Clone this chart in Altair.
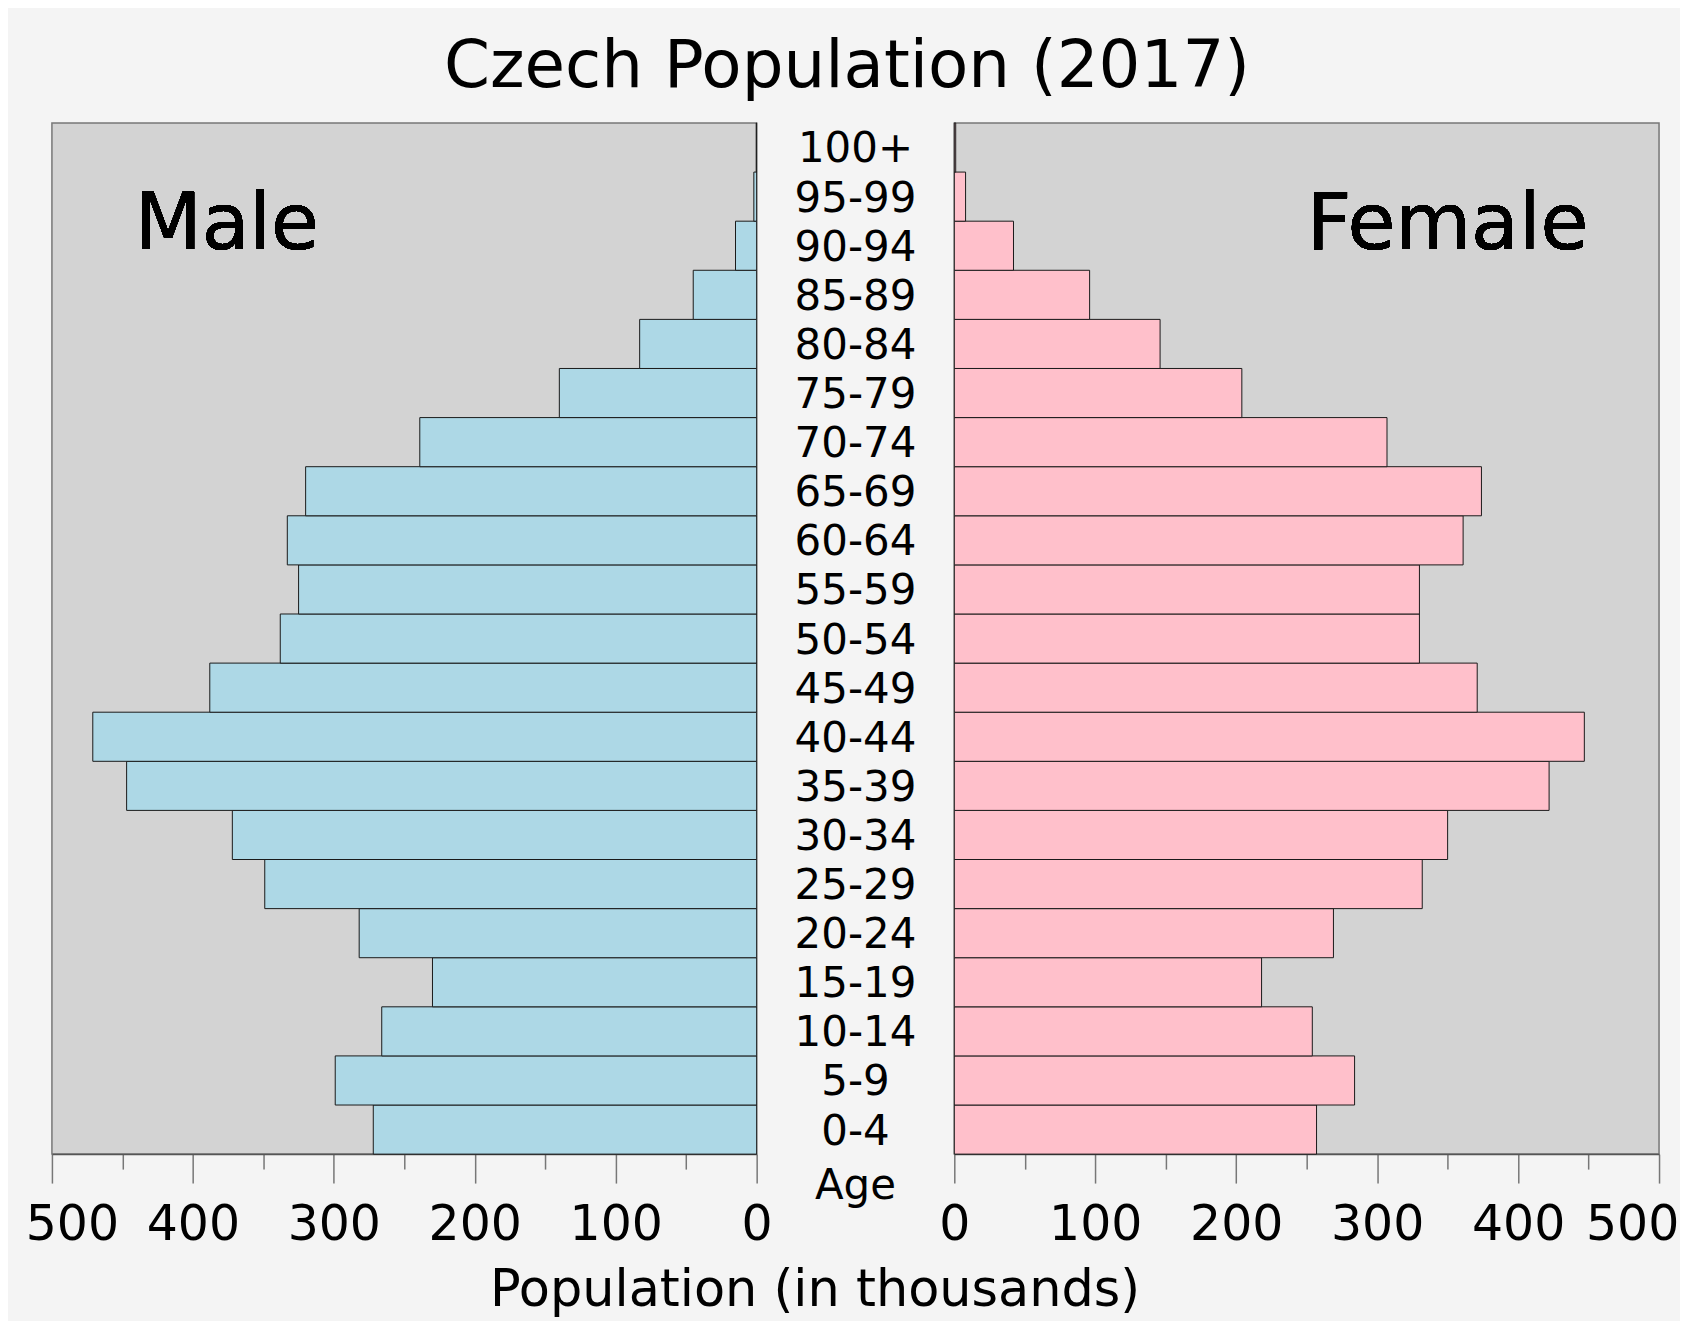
import altair as alt
import pandas as pd

# ---- data (thousands) ----
ages = ["0-4", "5-9", "10-14", "15-19", "20-24", "25-29", "30-34", "35-39",
        "40-44", "45-49", "50-54", "55-59", "60-64", "65-69", "70-74",
        "75-79", "80-84", "85-89", "90-94", "95-99", "100+"]
male = [272, 299, 266, 230, 282, 349, 372, 447, 471, 388, 338, 325, 333,
        320, 239, 140, 83, 45, 15, 2, 0.3]
female = [257, 284, 254, 218, 269, 332, 350, 422, 447, 371, 330, 330, 361,
          374, 307, 204, 146, 96, 42, 8, 1]
tick_values = [0, 50, 100, 150, 200, 250, 300, 350, 400, 450, 500]
panel_labels = ["Male", "Female"]
panel_label_pos = [376, 350]
panel_label_row = "95-99"

FONT = "DejaVu Sans"
df = pd.DataFrame({"age": ages, "male": male, "female": female})
order = ages[::-1]

W_SIDE = 706
W_MID = 198
H = 1033


def xaxis(flush_off):
    return alt.Axis(
        values=tick_values,
        labelExpr="datum.value % 100 === 0 ? datum.label : ''",
        title=None,
        grid=False,
        tickSize={"condition": {"test": "datum.value % 100 === 0", "value": 29}, "value": 15},
        labelOffset={"condition": {"test": "datum.value === 500", "value": flush_off}, "value": 0},
        labelFontSize=49,
        labelFont=FONT,
        labelColor="black",
        labelPadding=18,
        domainColor="#555555",
        domainWidth=1.5,
        tickColor="#777777",
        tickWidth=1.5,
        labelOverlap=False,
        labelFlush=False,
    )


yenc = alt.Y("age:N", sort=order, axis=None,
             scale=alt.Scale(paddingInner=0, paddingOuter=0))


def side(field, color, reverse, flush_off, label, label_x):
    scale = alt.Scale(domain=[0, 500], reverse=reverse)
    ax = xaxis(flush_off)
    bars = alt.Chart(df).mark_bar(color=color, stroke="#1a1a1a", strokeWidth=1).encode(
        x=alt.X(f"{field}:Q", scale=scale, axis=ax),
        y=yenc,
    )
    txt = alt.Chart(df).mark_text(
        fontSize=78, font=FONT, color="black", baseline="middle", align="center", dy=29
    ).encode(
        x=alt.XDatum(label_x, type="quantitative", scale=scale, axis=ax),
        y=alt.YDatum(panel_label_row, type="nominal"),
        text=alt.value(label),
    )
    return alt.layer(bars, txt).properties(
        width=W_SIDE, height=H,
        view=alt.ViewBackground(fill="#d3d3d3", stroke="#777777", strokeWidth=1.5),
    )


left = side("male", "#add8e6", True, 20, panel_labels[0], panel_label_pos[0])
right = side("female", "#ffc0cb", False, -27, panel_labels[1], panel_label_pos[1])

mid = alt.Chart(df).mark_text(fontSize=42, font=FONT, color="black", baseline="middle", dy=2).encode(
    y=yenc,
    text="age:N",
).properties(
    width=W_MID, height=H,
    title=alt.TitleParams("Age", orient="bottom", anchor="middle", fontSize=42, font=FONT,
                          fontWeight="normal", color="black", offset=12),
    view=alt.ViewBackground(strokeOpacity=0, fillOpacity=0),
)

inner = alt.hconcat(left, mid, right, spacing=0, bounds="flush").properties(
    title=alt.TitleParams("Population (in thousands)", orient="bottom", anchor="middle",
                          fontSize=51, font=FONT, fontWeight="normal", color="black",
                          offset=15, dx=-37)
)

chart = alt.vconcat(inner).properties(
    title=alt.TitleParams("Czech Population (2017)", anchor="middle", fontSize=66, font=FONT,
                          fontWeight="normal", color="black", offset=21, dx=-5),
    padding={"left": 16, "top": 24, "right": 0, "bottom": 4},
    background="#f4f4f4",
)

chart.save("out.html", embed_options={"renderer": "svg", "actions": False})
